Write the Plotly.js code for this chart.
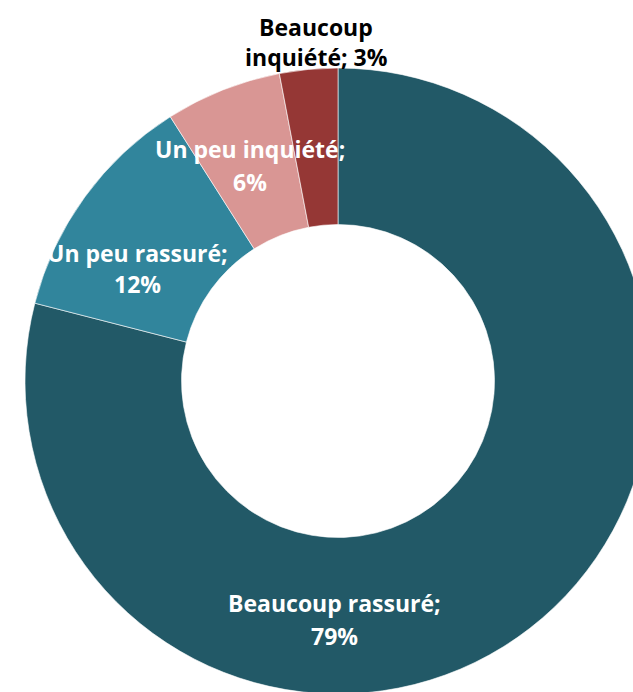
<!DOCTYPE html>
<html>
<head>
<meta charset="utf-8">
<script src="https://cdn.plot.ly/plotly-3.0.1.min.js"></script>
<style>
html,body{margin:0;padding:0;overflow:hidden;background:#fff;}
#chart{width:700px;height:700px;}
</style>
</head>
<body>
<div id="chart"></div>
<script>
var categories = ["Beaucoup rassuré", "Un peu rassuré", "Un peu inquiété", "Beaucoup inquiété"];
var values = [79, 12, 6, 3];
var colors = ["#225967", "#31859C", "#D99694", "#953735"];

// label text split in lines, built from the data
var labelLines = [
  [categories[0] + ";", values[0] + "%"],
  [categories[1] + ";", values[1] + "%"],
  [categories[2] + ";", values[2] + "%"],
  ["Beaucoup", "inquiété; " + values[3] + "%"]
];
// layout: [x, y-line1, y-line2] in pixels of the 700x700 plot div
var labelPos = [[334, 603, 636], [137, 253, 284], [250, 149, 182], [316, 27, 57]];
var labelColor = ["#FFFFFF", "#FFFFFF", "#FFFFFF", "#000000"];

var W = 700, H = 700;
var trace = {
  type: "pie",
  labels: categories,
  values: values,
  marker: {colors: colors, line: {color: "#FFFFFF", width: 0.6}},
  hole: 0.5,
  sort: false,
  direction: "clockwise",
  rotation: 0,
  textinfo: "none",
  hoverinfo: "label+percent",
  showlegend: false,
  domain: {x: [25 / W, 651 / W], y: [(H - 694) / H, (H - 68) / H]}
};

var annotations = [];
labelLines.forEach(function (lines, i) {
  lines.forEach(function (line, j) {
    annotations.push({
      xref: "paper", yref: "paper",
      x: labelPos[i][0] / W, y: 1 - labelPos[i][1 + j] / H,
      xanchor: "center", yanchor: "middle",
      text: line,
      showarrow: false,
      font: {family: "Open Sans, Noto Sans, sans-serif", size: 23, color: labelColor[i], weight: 700}
    });
  });
});

var layout = {
  width: W, height: H,
  margin: {l: 0, r: 0, t: 0, b: 0},
  paper_bgcolor: "#FFFFFF",
  showlegend: false,
  annotations: annotations
};

Plotly.newPlot("chart", [trace], layout, {displayModeBar: false, staticPlot: true});
</script>
</body>
</html>
